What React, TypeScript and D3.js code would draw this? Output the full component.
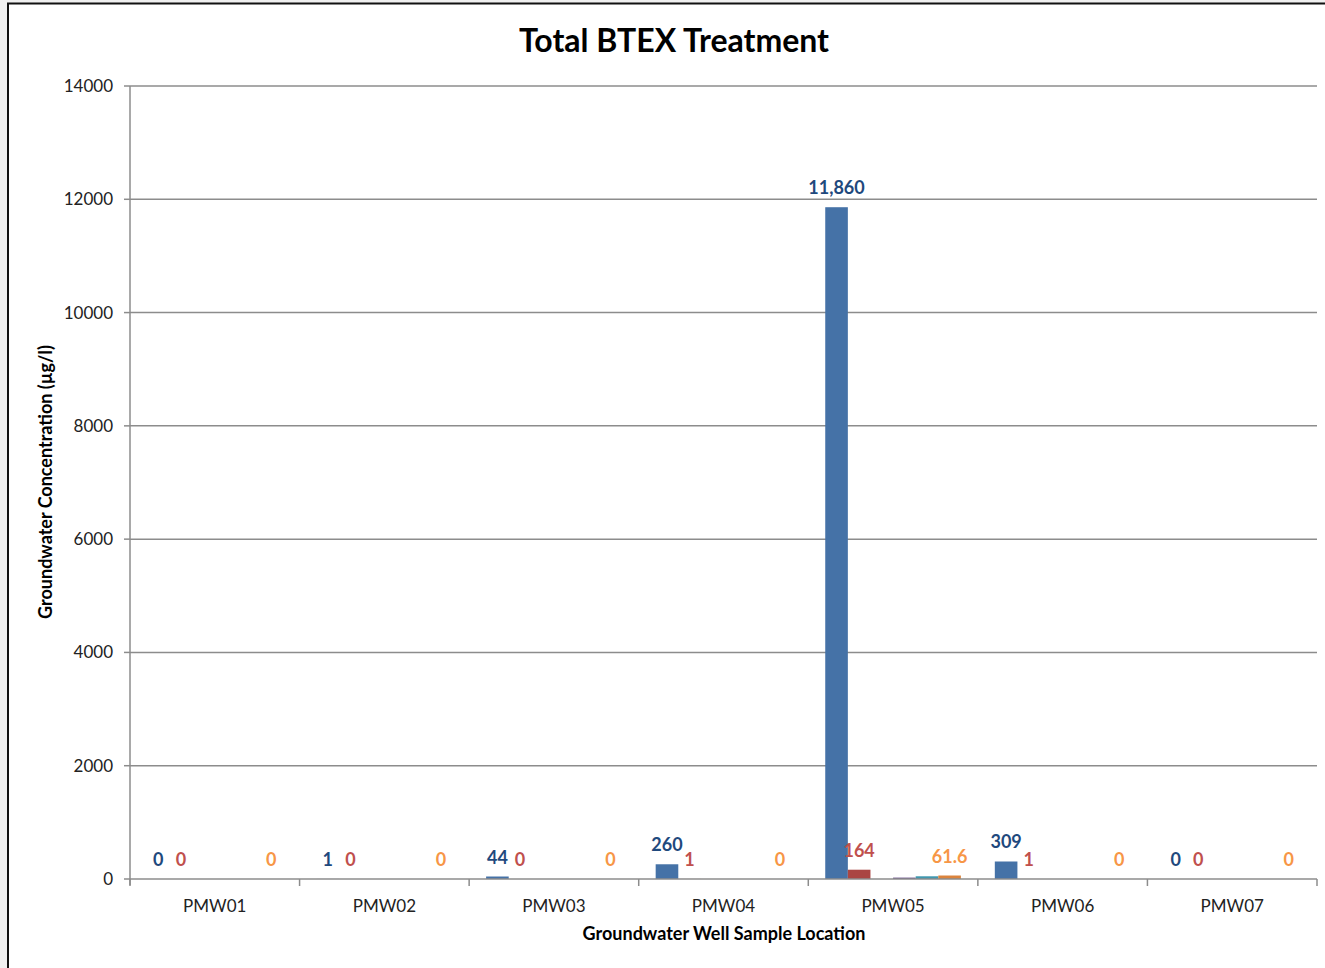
import React from "react";
import * as d3 from "d3";

const categories = ["PMW01", "PMW02", "PMW03", "PMW04", "PMW05", "PMW06", "PMW07"];
const seriesNames = ["Series 1", "Series 2", "Series 3", "Series 4", "Series 5", "Series 6"];
const series1 = [0, 1, 44, 260, 11860, 309, 0];
const series2 = [0, 0, 0, 1, 164, 1, 0];
const series3 = [0, 0, 0, 0, 0, 0, 0];
const series4 = [0, 0, 0, 0, 25, 0, 0];
const series5 = [0, 0, 0, 0, 48, 0, 0];
const series6 = [0, 0, 0, 0, 61.6, 0, 0];
const yTicks = [0, 2000, 4000, 6000, 8000, 10000, 12000, 14000];

const allSeries = [series1, series2, series3, series4, series5, series6];
const barColors = ["#4572A7", "#AA4643", "#89A54E", "#71588F", "#4198AF", "#DB843D"];
const labelColors = ["#1F497D", "#C0504D", null, null, null, "#F79646"];

const W = 1325;
const H = 968;
const M = { left: 130, right: 1317, top: 86, bottom: 879 };
const FONT = "Lato, 'Open Sans', sans-serif";

export default function App() {
  const x = d3.scaleBand<string>().domain(categories).range([M.left, M.right]).paddingInner(0).paddingOuter(0);
  const inner = d3
    .scaleBand<string>()
    .domain(seriesNames)
    .range([0, x.bandwidth()])
    .paddingInner(0)
    .paddingOuter(0.75);
  const y = d3.scaleLinear().domain([0, 14000]).range([M.bottom, M.top]);
  const fmt = d3.format(",");
  const edges = [...categories.map((c) => x(c) as number), M.right];

  return (
    <div style={{ position: "absolute", left: 0, top: 0 }}>
      <svg width={W} height={H} style={{ display: "block" }}>
        <rect x={0} y={0} width={W} height={H} fill="#f0f0f0" />
        <rect x={8} y={3.5} width={W + 10} height={H + 10} fill="#ffffff" stroke="#111" strokeWidth={2} />
        <text x={674} y={52} textAnchor="middle" fontFamily={FONT} fontWeight="bold" fontSize={32} fill="#000">
          Total BTEX Treatment
        </text>
        {yTicks.map((t) => (
          <g key={t}>
            {t > 0 && (
              <line x1={M.left} x2={M.right} y1={y(t)} y2={y(t)} stroke="#8c8c8c" strokeWidth={1.5} />
            )}
            <line x1={M.left - 6} x2={M.left} y1={y(t)} y2={y(t)} stroke="#8c8c8c" strokeWidth={1.5} />
            <text x={113} y={y(t) + 6} textAnchor="end" fontFamily={FONT} fontSize={17} fill="#222">
              {t}
            </text>
          </g>
        ))}
        <line x1={M.left} x2={M.left} y1={M.top} y2={M.bottom + 6} stroke="#8c8c8c" strokeWidth={1.5} />
        {allSeries.map((vals, si) =>
          vals.map((v, ci) => {
            const bx = (x(categories[ci]) as number) + (inner(seriesNames[si]) as number);
            const top = y(v);
            return (
              <rect
                key={`b${si}-${ci}`}
                x={bx}
                y={top}
                width={inner.bandwidth()}
                height={M.bottom - top}
                fill={barColors[si]}
              />
            );
          })
        )}
        <line x1={M.left} x2={M.right} y1={M.bottom} y2={M.bottom} stroke="#8c8c8c" strokeWidth={1.5} />
        {edges.map((e, i) => (
          <line key={`t${i}`} x1={e} x2={e} y1={M.bottom} y2={M.bottom + 7} stroke="#8c8c8c" strokeWidth={1.5} />
        ))}
        {allSeries.map((vals, si) =>
          labelColors[si]
            ? vals.map((v, ci) => {
                const cx = (x(categories[ci]) as number) + (inner(seriesNames[si]) as number) + inner.bandwidth() / 2;
                return (
                  <text
                    key={`l${si}-${ci}`}
                    x={cx}
                    y={y(v) - 13}
                    textAnchor="middle"
                    fontFamily={FONT}
                    fontWeight="bold"
                    fontSize={18}
                    fill={labelColors[si] as string}
                  >
                    {fmt(v)}
                  </text>
                );
              })
            : null
        )}
        {categories.map((c) => (
          <text
            key={c}
            x={(x(c) as number) + x.bandwidth() / 2}
            y={912}
            textAnchor="middle"
            fontFamily={FONT}
            fontSize={17}
            fill="#222"
          >
            {c}
          </text>
        ))}
        <text x={724} y={940} textAnchor="middle" fontFamily={FONT} fontWeight="bold" fontSize={18} fill="#000">
          Groundwater Well Sample Location
        </text>
        <text
          transform={`translate(52, 482) rotate(-90)`}
          textAnchor="middle"
          fontFamily={FONT}
          fontWeight="bold"
          fontSize={18}
          fill="#000"
        >
          Groundwater Concentration (µg/l)
        </text>
      </svg>
    </div>
  );
}
